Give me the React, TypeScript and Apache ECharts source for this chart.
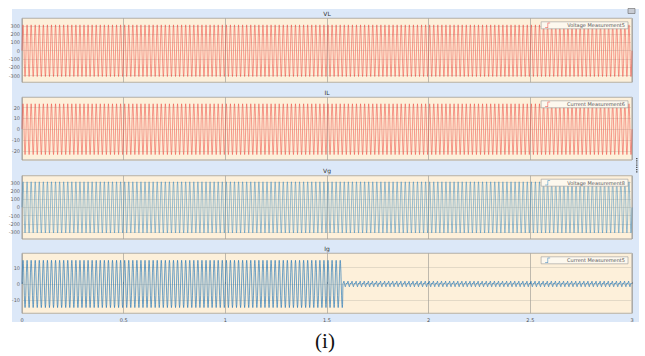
import React, { useEffect, useRef } from "react";
import * as echarts from "echarts";

// ---- data ----
const timeTicks = [0, 0.5, 1, 1.5, 2, 2.5, 3];
const panelTitles = ["VL", "IL", "Vg", "Ig"];
const legendNames = [
  "Voltage Measurement5",
  "Current Measurement6",
  "Voltage Measurement8",
  "Current Measurement5",
];
const yMins = [-380, -28.5, -385, -18];
const yMaxs = [390, 29.5, 385, 18.8];
const cyclePeriod = 0.02; // seconds per cycle (50 Hz)
const duration = 3;
// one cycle of the waveform, sampled (normalised)
const cycleShape = [0, 0.5, 0.87, 1, 0.87, 0.5, 0, -0.5, -0.87, -1, -0.87, -0.5];
// one cycle of the small ripple on Ig after the switch (normalised)
const rippleShape = [0.1, 0.7, 1, 0.5, -0.2, -0.7, -1, -0.6, -0.1, 0.3, 0.2, 0];
const peakVL = 311;
const peakIL = 23.5;
const peakVg = 311;
const peakIg = 14.5;
const rippleIg = 1.7;
const switchTimeIg = 1.578;

const seriesColors = ["#ef3e36", "#ef3e36", "#3287c0", "#2a7ab8"];
const seriesWidths = [0.55, 0.55, 0.55, 0.75];
const gridTops = [18.3, 97.3, 175.7, 253.3];
const gridHeights = [64, 62.7, 63.3, 60];

function buildWave(peak: number, afterShape: number[], afterPeak: number, tSwitch: number) {
  const n = cycleShape.length;
  const dt = cyclePeriod / n;
  const total = Math.round(duration / dt);
  const out: number[][] = [];
  for (let i = 0; i <= total; i++) {
    const t = +(i * dt).toFixed(6);
    const k = i % n;
    const v = t < tSwitch ? peak * cycleShape[k] : afterPeak * afterShape[k];
    out.push([t, v]);
  }
  return out;
}

export default function App() {
  const ref = useRef<HTMLDivElement>(null);
  useEffect(() => {
    if (!ref.current) return;
    const chart = echarts.init(ref.current, null, { renderer: "svg" });
    const waves = [
      buildWave(peakVL, cycleShape, peakVL, 99),
      buildWave(peakIL, cycleShape, peakIL, 99),
      buildWave(peakVg, cycleShape, peakVg, 99),
      buildWave(peakIg, rippleShape, rippleIg, switchTimeIg),
    ];
    const grids = gridTops.map((top, i) => ({
      left: 22,
      width: 610,
      top,
      height: gridHeights[i],
      show: true,
      backgroundColor: "#fdf0da",
      borderColor: "#a0a0a0",
      borderWidth: 1,
    }));
    const xAxes = gridTops.map((_, i) => ({
      type: "value",
      gridIndex: i,
      min: timeTicks[0],
      max: timeTicks[timeTicks.length - 1],
      interval: 0.5,
      axisLine: { show: false },
      axisTick: { show: i === 3, inside: true, length: 2, lineStyle: { color: "#888" } },
      axisLabel: {
        show: i === 3,
        fontSize: 5,
        color: "#555",
        margin: 4,
        formatter: (v: number) => String(v),
      },
      splitLine: { show: true, lineStyle: { color: "#a3a09a", width: 0.7 } },
    }));
    const yAxes = gridTops.map((_, i) => ({
      type: "value",
      gridIndex: i,
      min: yMins[i],
      max: yMaxs[i],
      splitNumber: i === 3 ? 4 : i === 1 ? 5 : 7,
      axisLine: { show: false },
      axisTick: { show: false },
      axisLabel: {
        fontSize: 5,
        color: "#666",
        margin: 2,
        showMinLabel: false,
        showMaxLabel: false,
      },
      splitLine: { show: true, lineStyle: { color: "#d2c9b8", width: 0.6 } },
    }));
    const series = waves.map((d, i) => ({
      name: legendNames[i],
      type: "line",
      xAxisIndex: i,
      yAxisIndex: i,
      data: d,
      symbol: "none",
      showSymbol: false,
      lineStyle: { width: seriesWidths[i], color: seriesColors[i], opacity: 0.9 },
      itemStyle: { color: seriesColors[i] },
      clip: true,
    }));
    const legends = gridTops.map((top, i) => ({
      data: [legendNames[i]],
      right: 17,
      top: top + 3.5,
      itemWidth: 9,
      itemHeight: 5,
      icon: "path://M0,9 L5,9 L5,0 L10,0 L10,1 L6,1 L6,10 L0,10 Z",
      padding: [1, 3, 1, 4],
      backgroundColor: "#fdf8ee",
      borderColor: "#9a9a9a",
      borderWidth: 0.6,
      textStyle: { fontSize: 5, color: "#555", padding: [0, 0, 0, 10] },
    }));
    const titles = panelTitles.map((t, i) => ({
      type: "text",
      x: 327,
      y: gridTops[i] - 5,
      style: {
        text: t,
        fill: "#333",
        fontSize: 6,
        textAlign: "center",
        textVerticalAlign: "middle",
        fontFamily: "DejaVu Sans",
      },
    }));
    const dots = [0, 1, 2, 3, 4, 5, 6].map((k) => ({
      type: "rect",
      shape: { x: 636, y: 158 + k * 2.2, width: 1.5, height: 1.2 },
      style: { fill: "#555" },
    }));
    chart.setOption({
      animation: false,
      textStyle: { fontFamily: "DejaVu Sans" },
      grid: grids,
      xAxis: xAxes,
      yAxis: yAxes,
      legend: legends,
      series,
      graphic: [
        ...titles,
        ...dots,
        {
          type: "rect",
          shape: { x: 628, y: 8.5, width: 7, height: 5 },
          style: { fill: "#c8ccd4", stroke: "#666", lineWidth: 0.6 },
        },
        {
          type: "text",
          x: 325,
          y: 341,
          style: {
            text: "(i)",
            fill: "#111",
            fontSize: 21,
            fontFamily: "Liberation Serif",
            textAlign: "center",
            textVerticalAlign: "middle",
          },
        },
      ],
    });
    return () => chart.dispose();
  }, []);
  return (
    <div style={{ position: "fixed", left: 0, top: 0, width: 645, height: 356, background: "#ffffff" }}>
      <div
        style={{
          position: "absolute",
          left: 12,
          top: 9,
          width: 627,
          height: 313,
          background: "#dce8f8",
        }}
      />
      <div ref={ref} style={{ position: "absolute", left: 0, top: 0, width: 645, height: 356 }} />
    </div>
  );
}
